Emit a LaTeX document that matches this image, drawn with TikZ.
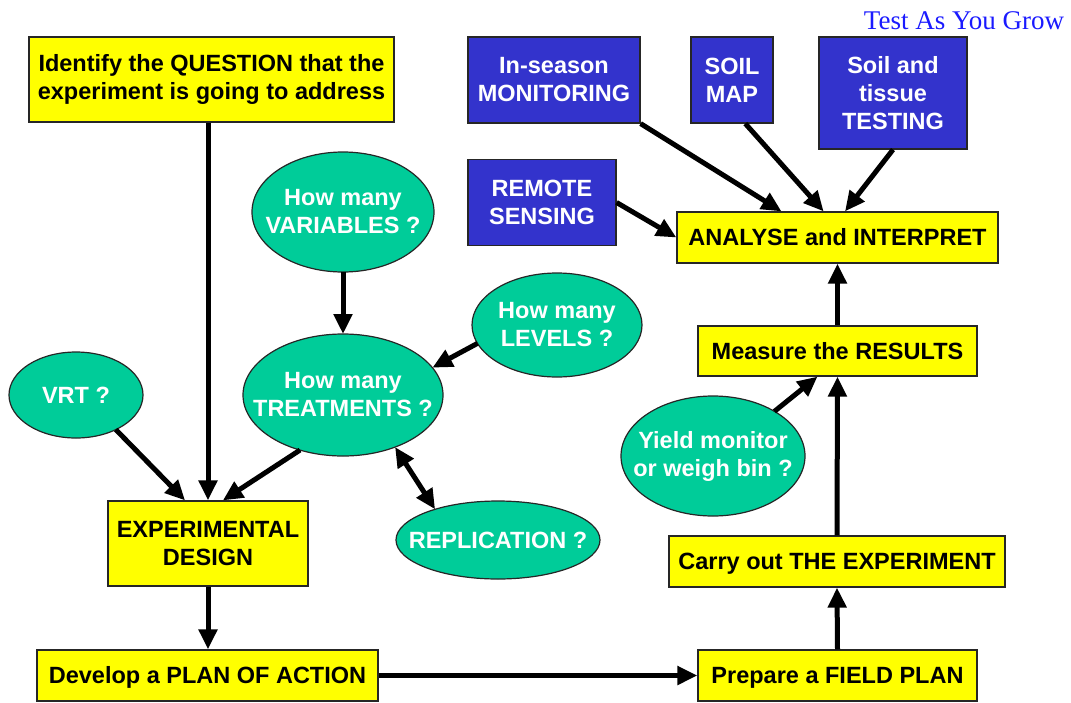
\documentclass[tikz,border=0pt]{standalone}
\usepackage{fontspec}
\setmainfont{Liberation Sans}
\newfontfamily\titlefont{Liberation Serif}
\usetikzlibrary{shapes.geometric,arrows.meta}
\definecolor{boxyellow}{HTML}{FFFF00}
\definecolor{boxblue}{HTML}{3333CC}
\definecolor{ellgreen}{HTML}{00CC99}
\definecolor{titleblue}{HTML}{1A1AFF}
\begin{document}
\begin{tikzpicture}[x=1pt,y=-1pt,
  txt/.style={inner sep=0pt, align=center, font=\bfseries\fontsize{23.5}{28}\selectfont},
  base/.style={txt, draw=black!85, line width=1.2pt},
  ybox/.style={base, rectangle, fill=boxyellow, text=black},
  yline/.style={ybox, text height=16.8pt, text depth=0pt},
  bbox/.style={base, rectangle, fill=boxblue, text=white},
  gell/.style={draw=black!85, line width=1.2pt, ellipse, fill=ellgreen, inner sep=0pt, outer sep=0pt},
  etxt/.style={txt, text=white},
  arr/.style={-{Triangle[length=20pt,width=18pt]}, line width=5pt},
  darr/.style={{Triangle[length=20pt,width=18pt]}-{Triangle[length=20pt,width=18pt]}, line width=5pt}
]
\useasboundingbox (0,0) rectangle (1071,702);

% title
\node[font=\titlefont\fontsize{27}{30}\selectfont, text=titleblue, inner sep=0pt] (title) at (964,21) {Test As You Grow};

% yellow boxes
\node[ybox, minimum width=365pt, minimum height=85pt] (q) at (211.5,79.5) {Identify the QUESTION that the\\experiment is going to address};
\node[ybox, minimum width=200pt, minimum height=85pt] (ed) at (208,543.5) {EXPERIMENTAL\\DESIGN};
\node[yline, minimum width=341pt, minimum height=51pt] (plan) at (207.5,675.5) {Develop a PLAN OF ACTION};
\node[yline, minimum width=279pt, minimum height=51pt] (fp) at (837.5,675.5) {Prepare a FIELD PLAN};
\node[yline, minimum width=336pt, minimum height=51pt] (carry) at (837,561.5) {Carry out THE EXPERIMENT};
\node[yline, minimum width=279pt, minimum height=50pt] (meas) at (837.5,351) {Measure the RESULTS};
\node[yline, minimum width=321pt, minimum height=51pt] (an) at (837.5,237.5) {ANALYSE and INTERPRET};

% blue boxes
\node[bbox, minimum width=172pt, minimum height=86pt] (ins) at (554,80) {In-season\\MONITORING};
\node[bbox, minimum width=82pt, minimum height=86pt] (smap) at (732,80) {SOIL\\MAP};
\node[bbox, minimum width=148pt, minimum height=112pt] (sts) at (893,93) {Soil and\\tissue\\TESTING};
\node[bbox, minimum width=148pt, minimum height=86pt] (rs) at (542,202.5) {REMOTE\\SENSING};

% green ellipses
\node[gell, minimum width=182pt, minimum height=120pt, label={[etxt]center:How many\\VARIABLES ?}] (var) at (343,212) {};
\node[gell, minimum width=170pt, minimum height=104pt, label={[etxt]center:How many\\LEVELS ?}] (lev) at (557,325) {};
\node[gell, minimum width=200pt, minimum height=122pt, label={[etxt]center:How many\\TREATMENTS ?}] (tr) at (343,395) {};
\node[gell, minimum width=134pt, minimum height=86pt, label={[etxt]center:VRT ?}] (vrt) at (76,395) {};
\node[gell, minimum width=204pt, minimum height=78pt, label={[etxt]center:REPLICATION ?}] (rep) at (498,540) {};
\node[gell, minimum width=184pt, minimum height=120pt, label={[etxt]center:Yield monitor\\or weigh bin ?}] (yld) at (713,456) {};

% connectors
\draw[arr] (ed.north |- q.south) -- (ed.north);
\draw[arr] (vrt.-41) -- (ed.118);
\draw[arr] (tr.-128) -- (ed.71);
\draw[arr] (var.south) -- (tr.north);
\draw[arr] (lev.-167) -- (tr.17);
\draw[darr] (tr.-45) -- (rep.154);
\draw[arr] (ed.south) -- (ed.south |- plan.north);
\draw[arr] (plan.east) -- (fp.west);
\draw[arr] (fp.north) -- (carry.south);
\draw[arr] (carry.north) -- (meas.south);
\draw[arr] (yld.36) -- (meas.-128);
\draw[arr] (meas.north) -- (an.south);
\draw[arr] (ins.south east) -- (an.155);
\draw[arr] (smap.-73) -- (an.118);
\draw[arr] (sts.south) -- (an.74);
\draw[arr] (rs.east) -- (an.west);
\end{tikzpicture}
\end{document}
